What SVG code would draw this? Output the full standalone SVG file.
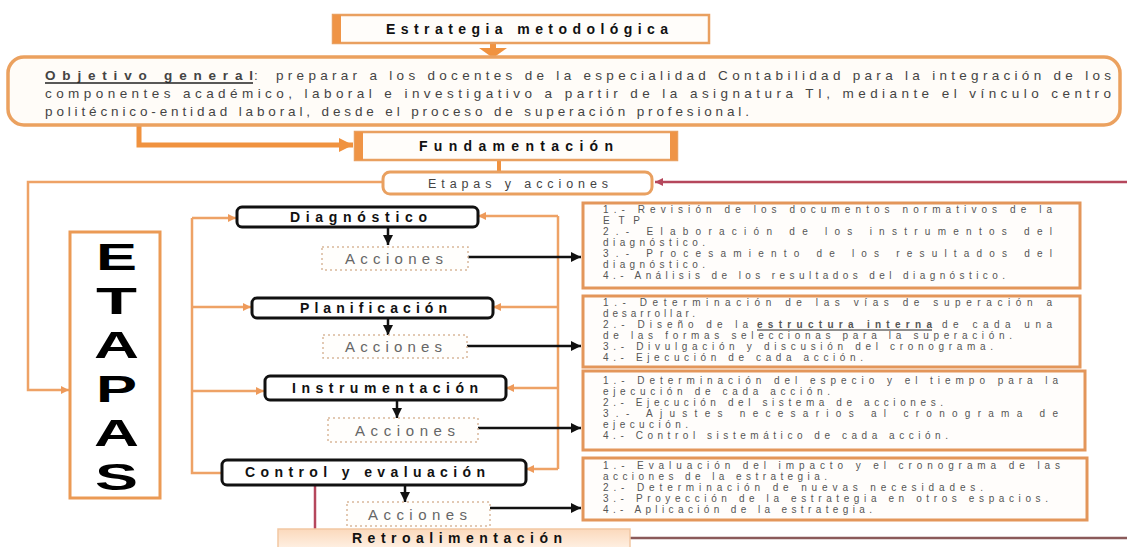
<svg xmlns="http://www.w3.org/2000/svg" width="1127" height="547" viewBox="0 0 1127 547">
<defs>
<style>
.t{font-family:"Liberation Sans",Arial,sans-serif;}
.hdr{font-family:"Liberation Sans",Arial,sans-serif;font-weight:bold;font-size:14px;fill:#111;}
.stg{font-family:"Liberation Sans",Arial,sans-serif;font-weight:bold;font-size:14px;fill:#111;}
.acc{font-family:"Liberation Sans",Arial,sans-serif;font-size:15px;fill:#666;}
.obj{font-family:"Liberation Sans",Arial,sans-serif;font-size:13.5px;fill:#444;}
.lst{font-family:"Liberation Sans",Arial,sans-serif;font-size:10px;fill:#555;}
.big{font-family:"Liberation Sans",Arial,sans-serif;font-weight:bold;font-size:37px;fill:#000;}
.obox{fill:#fffcf8;stroke:#eba15f;stroke-width:3.5;}
.sbox{fill:#fff;stroke:#111;stroke-width:3;}
.abox{fill:#fffefc;stroke:#d9b89a;stroke-width:1.5;stroke-dasharray:2 3;}
.lbox{fill:#fffdfb;stroke:#e3965a;stroke-width:3;}
.oc{fill:none;stroke:#f0923f;stroke-width:5;}
.oth{fill:none;stroke:#eea266;stroke-width:2.5;}
.bk{fill:none;stroke:#111;stroke-width:2.5;}
.rd{fill:none;stroke:#b5475c;stroke-width:2.5;}
.ul{stroke:#222;fill:none;}
</style>
<marker id="ao" viewBox="0 0 8 8" refX="8" refY="4" markerWidth="8" markerHeight="8" markerUnits="userSpaceOnUse" orient="auto"><path d="M0,0 L8,4 L0,8 z" fill="#ee9a5a"/></marker>
<marker id="aob" viewBox="0 0 14 14" refX="14" refY="7" markerWidth="14" markerHeight="14" markerUnits="userSpaceOnUse" orient="auto"><path d="M0,0 L14,7 L0,14 z" fill="#f0923f"/></marker>
<marker id="ab" viewBox="0 0 10 10" refX="10" refY="5" markerWidth="10" markerHeight="10" markerUnits="userSpaceOnUse" orient="auto"><path d="M0,0 L10,5 L0,10 z" fill="#111"/></marker>
<marker id="ar" viewBox="0 0 8 8" refX="8" refY="4" markerWidth="8" markerHeight="8" markerUnits="userSpaceOnUse" orient="auto"><path d="M0,0 L8,4 L0,8 z" fill="#b5475c"/></marker>
<linearGradient id="peach" x1="0" y1="0" x2="0" y2="1"><stop offset="0" stop-color="#fbd9bc"/><stop offset="1" stop-color="#fff3e8"/></linearGradient>
</defs>
<rect width="1127" height="547" fill="#fff"/>

<g id="connectors">
<path d="M493,43 V49" stroke="#f0923f" stroke-width="6" fill="none"/>
<path d="M479,48 L507,48 L493,58 z" fill="#f0923f"/>
<path class="oc" d="M139,125 V145 H353" marker-end="url(#aob)"/>
<path d="M499,160 V172" stroke="#f0923f" stroke-width="4" fill="none"/>
<path class="rd" d="M1127,182 H655" marker-end="url(#ar)"/>
<path class="oth" d="M383,182 H28 V390 H69" marker-end="url(#ao)"/>
<path class="oth" d="M192,218 V473 H222"/>
<path class="oth" d="M192,218 H236" marker-end="url(#ao)"/>
<path class="oth" d="M192,307 H251" marker-end="url(#ao)"/>
<path class="oth" d="M192,391 H264" marker-end="url(#ao)"/>
<path class="oth" d="M558,216 V469"/>
<path class="oth" d="M558,216 H478" marker-end="url(#ao)"/>
<path class="oth" d="M558,307 H493" marker-end="url(#ao)"/>
<path class="oth" d="M558,388 H506" marker-end="url(#ao)"/>
<path class="oth" d="M558,469 H526" marker-end="url(#ao)"/>
<path class="bk" d="M388,227 V245" marker-end="url(#ab)"/>
<path class="bk" d="M388,318 V335" marker-end="url(#ab)"/>
<path class="bk" d="M397,400 V418" marker-end="url(#ab)"/>
<path class="bk" d="M405,485 V502" marker-end="url(#ab)"/>
<path class="bk" d="M468,257 H581" marker-end="url(#ab)"/>
<path class="bk" d="M467,346 H581" marker-end="url(#ab)"/>
<path class="bk" d="M478,428 H581" marker-end="url(#ab)"/>
<path class="bk" d="M490,508 H581" marker-end="url(#ab)"/>
<path class="rd" d="M315,486 V530"/>
<path d="M630,538 H1127" stroke="#8a5a5a" stroke-width="2.5" fill="none"/>
</g>

<g id="estrategia">
<rect x="333" y="15" width="376" height="28" fill="#fffdfa" stroke="#e9a060" stroke-width="2.5"/>
<rect x="333" y="15" width="8" height="28" fill="#ef9446"/>
<text class="hdr" x="386" y="34" textLength="282" lengthAdjust="spacing">Estrategia metodológica</text>
</g>

<g id="objetivo">
<rect class="obox" x="8" y="57" width="1112" height="68" rx="16"/>
<text class="obj" x="45" y="80" font-weight="bold" fill="#222" textLength="208" lengthAdjust="spacing">Objetivo general</text>
<path class="ul" d="M45,83 H253" stroke-width="1.5"/>
<text class="obj" x="254" y="80">:</text>
<text class="obj" x="276" y="80" textLength="835" lengthAdjust="spacing">preparar a los docentes de la especialidad Contabilidad para la integración de los</text>
<text class="obj" x="45" y="98" textLength="1066" lengthAdjust="spacing">componentes académico, laboral e investigativo a partir de la asignatura TI, mediante el vínculo centro</text>
<text class="obj" x="45" y="116" textLength="704" lengthAdjust="spacing">politécnico-entidad laboral, desde el proceso de superación profesional.</text>
</g>

<g id="fundamentacion">
<rect x="355" y="132" width="322" height="28" fill="#fffdfa" stroke="#e9a060" stroke-width="2.5"/>
<rect x="355" y="132" width="8" height="28" fill="#ef9446"/>
<rect x="670" y="132" width="7" height="28" fill="#ef9446"/>
<text class="hdr" x="419" y="151" textLength="194" lengthAdjust="spacing">Fundamentación</text>
</g>

<g id="etapas-acciones">
<rect x="383" y="172" width="269" height="22" rx="7" fill="#fff" stroke="#e9a060" stroke-width="3"/>
<text class="t" font-size="12.5" fill="#444" x="428" y="188" textLength="180" lengthAdjust="spacing">Etapas y  acciones</text>
</g>

<g id="etapas">
<rect x="70" y="232" width="90" height="266" fill="#fff" stroke="#eb9a55" stroke-width="3"/>
<text class="big" x="96" y="270" textLength="41" lengthAdjust="spacingAndGlyphs">E</text>
<text class="big" x="96" y="314" textLength="41" lengthAdjust="spacingAndGlyphs">T</text>
<text class="big" x="94" y="358" textLength="45" lengthAdjust="spacingAndGlyphs">A</text>
<text class="big" x="96" y="402" textLength="41" lengthAdjust="spacingAndGlyphs">P</text>
<text class="big" x="94" y="446" textLength="45" lengthAdjust="spacingAndGlyphs">A</text>
<text class="big" x="95" y="490" textLength="43" lengthAdjust="spacingAndGlyphs">S</text>
</g>

<g id="diagnostico">
<rect class="sbox" x="237" y="207" width="241" height="20" rx="5"/>
<text class="stg" x="290" y="222" textLength="137" lengthAdjust="spacing">Diagnóstico</text>
</g>
<g id="acciones-1">
<rect class="abox" x="322" y="247" width="146" height="23"/>
<text class="acc" x="345" y="264" textLength="98" lengthAdjust="spacing">Acciones</text>
</g>
<g id="planificacion">
<rect class="sbox" x="252" y="298" width="241" height="20" rx="5"/>
<text class="stg" x="300" y="313" textLength="147" lengthAdjust="spacing">Planificación</text>
</g>
<g id="acciones-2">
<rect class="abox" x="323" y="335" width="144" height="23"/>
<text class="acc" x="345" y="352" textLength="97" lengthAdjust="spacing">Acciones</text>
</g>
<g id="instrumentacion">
<rect class="sbox" x="265" y="376" width="241" height="24" rx="5"/>
<text class="stg" x="292" y="393" textLength="186" lengthAdjust="spacing">Instrumentación</text>
</g>
<g id="acciones-3">
<rect class="abox" x="328" y="418" width="150" height="24"/>
<text class="acc" x="355" y="436" textLength="100" lengthAdjust="spacing">Acciones</text>
</g>
<g id="control">
<rect class="sbox" x="222" y="460" width="304" height="25" rx="5"/>
<text class="stg" x="245" y="477" textLength="240" lengthAdjust="spacing">Control y  evaluación</text>
</g>
<g id="acciones-4">
<rect class="abox" x="347" y="502" width="143" height="24"/>
<text class="acc" x="368" y="520" textLength="99" lengthAdjust="spacing">Acciones</text>
</g>

<g id="lista-1">
<rect class="lbox" x="583" y="203" width="497" height="85"/>
<text class="lst" x="603" y="213" textLength="449" lengthAdjust="spacing">1.- Revisión de los documentos normativos de la</text>
<text class="lst" x="603" y="224" textLength="37" lengthAdjust="spacing">ETP</text>
<text class="lst" x="603" y="235" textLength="449" lengthAdjust="spacing">2.- Elaboración de los instrumentos del</text>
<text class="lst" x="603" y="246" textLength="102" lengthAdjust="spacing">diagnóstico.</text>
<text class="lst" x="603" y="257" textLength="449" lengthAdjust="spacing">3.- Procesamiento de los resultados del</text>
<text class="lst" x="603" y="268" textLength="102" lengthAdjust="spacing">diagnóstico.</text>
<text class="lst" x="603" y="279" textLength="402" lengthAdjust="spacing">4.- Análisis de los resultados del diagnóstico.</text>
</g>
<g id="lista-2">
<rect class="lbox" x="583" y="296" width="497" height="71"/>
<text class="lst" x="603" y="306" textLength="449" lengthAdjust="spacing">1.- Determinación de las vías de superación a</text>
<text class="lst" x="603" y="317" textLength="92" lengthAdjust="spacing">desarrollar.</text>
<text class="lst" x="603" y="328" textLength="145" lengthAdjust="spacing">2.- Diseño de la</text>
<text class="lst" x="757" y="328" font-weight="bold" fill="#222" textLength="175" lengthAdjust="spacing">estructura interna</text>
<path class="ul" d="M757,330 H932" stroke-width="1.2"/>
<text class="lst" x="942" y="328" textLength="110" lengthAdjust="spacing">de cada una</text>
<text class="lst" x="603" y="339" textLength="409" lengthAdjust="spacing">de las formas seleccionas para la superación.</text>
<text class="lst" x="603" y="350" textLength="390" lengthAdjust="spacing">3.- Divulgación  y discusión  del cronograma.</text>
<text class="lst" x="603" y="361" textLength="260" lengthAdjust="spacing">4.- Ejecución de cada acción.</text>
</g>
<g id="lista-3">
<rect class="lbox" x="583" y="371" width="502" height="79"/>
<text class="lst" x="603" y="384" textLength="455" lengthAdjust="spacing">1.- Determinación del especio y el tiempo para la</text>
<text class="lst" x="603" y="395" textLength="227" lengthAdjust="spacing">ejecución de cada acción.</text>
<text class="lst" x="603" y="406" textLength="340" lengthAdjust="spacing">2.- Ejecución del sistema de acciones.</text>
<text class="lst" x="603" y="417" textLength="455" lengthAdjust="spacing">3.- Ajustes necesarios al cronograma de</text>
<text class="lst" x="603" y="428" textLength="85" lengthAdjust="spacing">ejecución.</text>
<text class="lst" x="603" y="439" textLength="345" lengthAdjust="spacing">4.- Control sistemático de cada acción.</text>
</g>
<g id="lista-4">
<rect class="lbox" x="583" y="458" width="504" height="62"/>
<text class="lst" x="603" y="469" textLength="457" lengthAdjust="spacing">1.- Evaluación del impacto y el cronograma de las</text>
<text class="lst" x="603" y="480" textLength="224" lengthAdjust="spacing">acciones de la estrategia.</text>
<text class="lst" x="603" y="491" textLength="380" lengthAdjust="spacing">2.- Determinación de nuevas necesidades.</text>
<text class="lst" x="603" y="502" textLength="445" lengthAdjust="spacing">3.- Proyección de la estrategia en otros espacios.</text>
<text class="lst" x="603" y="513" textLength="269" lengthAdjust="spacing">4.- Aplicación de la estrategia.</text>
</g>

<g id="retroalimentacion">
<rect x="278" y="529" width="352" height="22" fill="url(#peach)" stroke="#f2c7a3" stroke-width="1.5"/>
<text class="hdr" x="352" y="543" textLength="210" lengthAdjust="spacing">Retroalimentación</text>
</g>
</svg>
